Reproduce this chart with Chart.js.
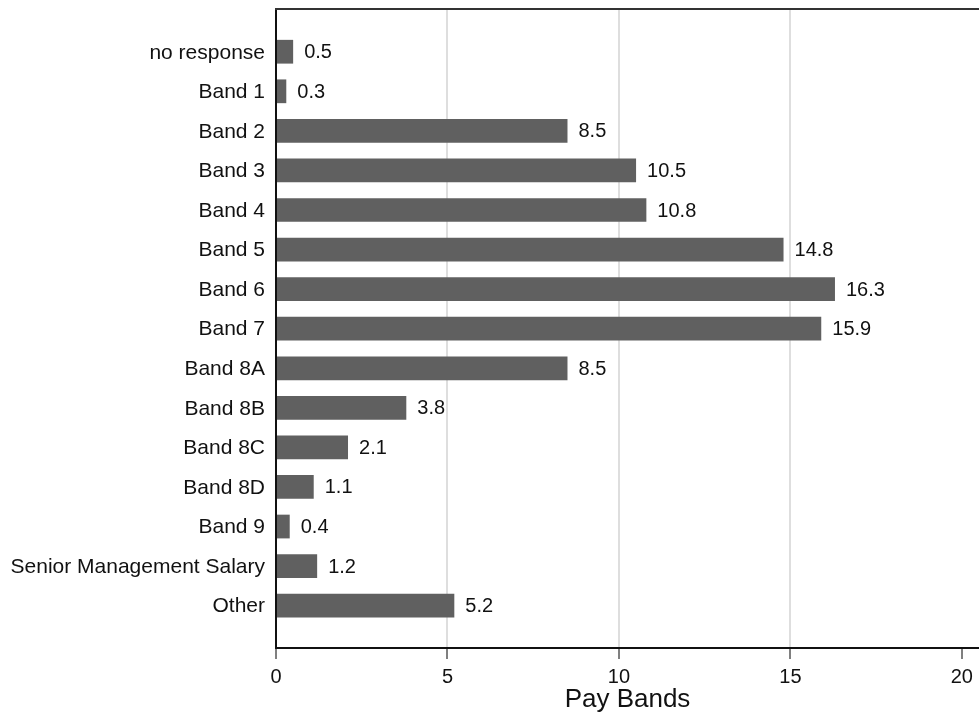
<!DOCTYPE html>
<html>
<head>
<meta charset="utf-8">
<script src="https://cdn.jsdelivr.net/npm/chart.js@4"></script>
<style>
  html, body { margin: 0; padding: 0; background: #fff; }
  #wrap { width: 979px; height: 715px; position: relative; }
</style>
</head>
<body>
<div id="wrap"><canvas id="chart"></canvas></div>
<script>
// Pay band distribution (%)
const categories = ['no response', 'Band 1', 'Band 2', 'Band 3', 'Band 4', 'Band 5', 'Band 6', 'Band 7',
    'Band 8A', 'Band 8B', 'Band 8C', 'Band 8D', 'Band 9', 'Senior Management Salary', 'Other'];
const shares = [0.5, 0.3, 8.5, 10.5, 10.8, 14.8, 16.3, 15.9, 8.5, 3.8, 2.1, 1.1, 0.4, 1.2, 5.2];
const xTicks = [0, 5, 10, 15, 20];
const gridValues = [5, 10, 15];

const FONT = '"Liberation Sans", Arial, Helvetica, sans-serif';

// value labels at the end of each bar
const valueLabels = {
    id: 'valueLabels',
    afterDatasetsDraw(chart) {
        const ctx = chart.ctx;
        const meta = chart.getDatasetMeta(0);
        ctx.save();
        ctx.font = '20px ' + FONT;
        ctx.fillStyle = '#111';
        ctx.textAlign = 'left';
        ctx.textBaseline = 'middle';
        meta.data.forEach((bar, i) => {
            ctx.fillText(shares[i].toFixed(1), bar.x + 11, bar.y + 1);
        });
        ctx.restore();
    }
};

// top frame line of the plot region
const topFrame = {
    id: 'topFrame',
    afterDraw(chart) {
        const { ctx, chartArea } = chart;
        ctx.save();
        ctx.strokeStyle = '#333';
        ctx.lineWidth = 2;
        ctx.beginPath();
        ctx.moveTo(chartArea.left - 1, chartArea.top);
        ctx.lineTo(chartArea.right, chartArea.top);
        ctx.stroke();
        ctx.restore();
    }
};

new Chart(document.getElementById('chart'), {
    type: 'bar',
    data: {
        datasets: [{
            data: shares.map((v, i) => ({ x: v, y: i })),
            backgroundColor: '#606060',
            borderWidth: 0,
            barPercentage: 0.6,
            categoryPercentage: 1
        }]
    },
    options: {
        indexAxis: 'y',
        responsive: true,
        maintainAspectRatio: false,
        animation: false,
        layout: { padding: { top: 9, left: 0, right: 0, bottom: 0 } },
        plugins: {
            legend: { display: false },
            tooltip: { enabled: false }
        },
        scales: {
            x: {
                type: 'linear',
                position: 'bottom',
                min: 0,
                max: 20.5,
                afterBuildTicks: axis => { axis.ticks = xTicks.map(v => ({ value: v })); },
                afterFit: axis => { axis.height = 67; axis.paddingRight = 0; },
                grid: {
                    color: c => gridValues.includes(c.tick && c.tick.value) ? '#dedede' : 'rgba(0,0,0,0)',
                    lineWidth: 2,
                    tickColor: '#000',
                    tickWidth: 1,
                    tickLength: 11
                },
                border: { display: true, color: '#111', width: 2 },
                ticks: {
                    color: '#111',
                    font: { family: FONT, size: 20 },
                    padding: 6,
                    maxRotation: 0
                },
                title: {
                    display: true,
                    text: 'Pay Bands',
                    color: '#111',
                    font: { family: FONT, size: 26 },
                    padding: { top: 0, bottom: 0 }
                }
            },
            y: {
                type: 'linear',
                reverse: true,
                offset: false,
                min: -1.08,
                max: 15.07,
                afterBuildTicks: axis => { axis.ticks = categories.map((_, i) => ({ value: i })); },
                afterFit: axis => {
                    axis.width = 276;
                    axis.paddingTop = 0;
                    axis.paddingBottom = 0;
                },
                grid: { display: false, drawTicks: false, offset: false },
                border: { display: true, color: '#111', width: 2 },
                ticks: {
                    color: '#111',
                    font: { family: FONT, size: 21 },
                    padding: 11,
                    labelOffset: 1,
                    autoSkip: false,
                    callback: v => categories[v]
                }
            }
        }
    },
    plugins: [valueLabels, topFrame]
});
</script>
</body>
</html>
